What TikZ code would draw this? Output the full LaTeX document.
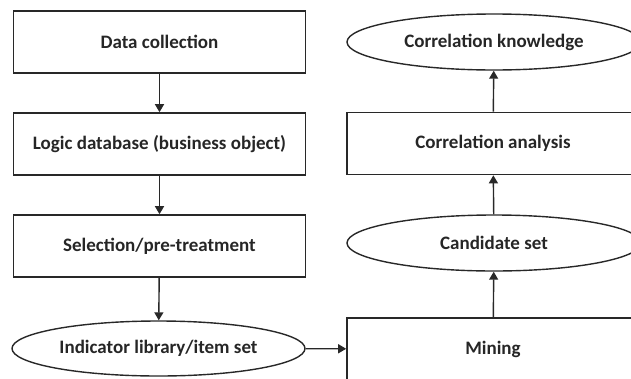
\documentclass[tikz,border=0pt]{standalone}
\usepackage{fontspec}
\setmainfont{Carlito}
\usepackage{tikz}
\usetikzlibrary{arrows.meta}
\usetikzlibrary{shapes.geometric,positioning}
\definecolor{linegray}{RGB}{40,40,40}
\tikzset{
    stepbox/.style={
        rectangle,
        draw=linegray,
        line width=1.6pt,
        minimum width=292pt,
        minimum height=62pt,
        inner sep=0pt,
        text=black!85,
        font=\fontsize{19}{22}\selectfont\bfseries
    },
    % ellipse nodes for the item sets
    setoval/.style={
        ellipse,
        draw=linegray,
        line width=1.4pt,
        minimum width=294pt,
        minimum height=56pt,
        inner sep=0pt,
        text=black!85,
        font=\fontsize{19}{22}\selectfont\bfseries
    },
    flowarrow/.style={
        line width=1.4pt,
        linegray,
        -{Triangle[length=8pt, width=9pt]}
    }
}
\begin{document}
\begin{tikzpicture}[x=1pt, y=-1pt]
	\useasboundingbox (0,0) rectangle (631,378);
	\clip (0,0) rectangle (631,378);
	
	\node [stepbox] (collect) at (159.5,42) {Data collection};
	\node [stepbox] (logicdb) at (159.5,144) {Logic database (business object)};
	\node [stepbox] (select) at (159.5,246) {Selection/pre-treatment};
	\node [setoval, minimum width=293pt, minimum height=55pt] (itemset) at (158.5,348.5) {Indicator library/item set};
	
	\node [stepbox] (mining) at (493,349) {Mining};
	\node [setoval] (cand) at (494,243) {Candidate set};
	\node [stepbox] (analysis) at (493,143.5) {Correlation analysis};
	\node [setoval] (know) at (494,42) {Correlation knowledge};
	
	\draw[flowarrow] (collect) -- (logicdb);
	\draw[flowarrow] (logicdb) -- (select);
	\draw[flowarrow] (select) -- (itemset);
	\draw[flowarrow] (itemset) -- (mining);
	\draw[flowarrow] (mining) -- (cand);
	\draw[flowarrow] (cand) -- (analysis);
	\draw[flowarrow] (analysis) -- (know);
\end{tikzpicture}
\end{document}
